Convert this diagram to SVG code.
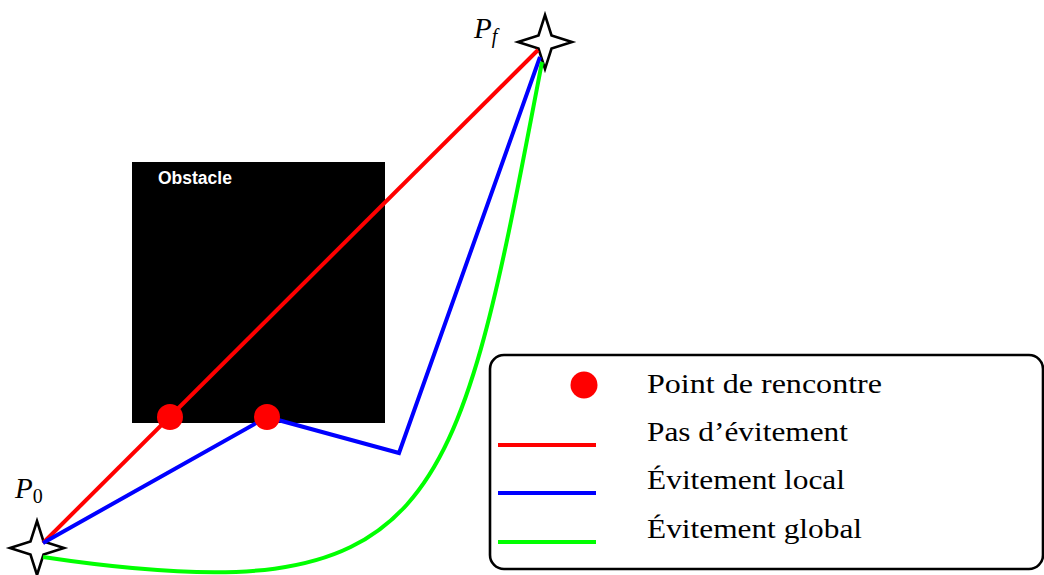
<svg xmlns="http://www.w3.org/2000/svg" width="1044" height="575" viewBox="0 0 1044 575">
<style>
.path{fill:none;stroke-width:4;stroke-linejoin:miter}
.red{stroke:#ff0000}
.blue{stroke:#0000ff}
.green{stroke:#00ff00}
.dot{fill:#ff0000}
.star{fill:#ffffff;stroke:#000000;stroke-width:2.6;stroke-linejoin:miter}
.lbl{font-family:"Liberation Serif","Times New Roman",serif;font-size:27px;fill:#000}
.math{font-family:"Liberation Serif","Times New Roman",serif;font-style:italic;fill:#000}
</style>
<defs>
<polygon id="star4" points="0,-27 6.5,-6.5 27,0 6.5,6.5 0,27 -6.5,6.5 -27,0 -6.5,-6.5"/>
</defs>
<rect width="1044" height="575" fill="#ffffff"/>
<g id="obstacle">
<rect x="132" y="162" width="253" height="261" fill="#000000"/>
<text x="158" y="184" font-family="Liberation Sans, Arial, sans-serif" font-weight="bold" font-size="17.5" fill="#ffffff">Obstacle</text>
</g>
<g id="P0">
<use href="#star4" class="star" transform="translate(37,548)"/>
<text class="math" x="15" y="498" font-size="29">P<tspan font-style="normal" font-size="20" dy="5">0</tspan></text>
</g>
<g id="Pf">
<use href="#star4" class="star" transform="translate(545,42)"/>
<text class="math" x="474" y="38" font-size="29">P<tspan font-size="20" dy="5">f</tspan></text>
</g>
<g id="connectors">
<path class="path red" d="M43,543 L538,50"/>
<path class="path blue" d="M43,543 L267,417 L399,453 L540,57"/>
<path class="path green" d="M43,557 C443,617 456,512 542,62"/>
</g>
<g id="meeting-points">
<circle class="dot" cx="170" cy="417" r="13"/>
<circle class="dot" cx="267" cy="417" r="13"/>
</g>
<g id="legend">
<rect x="490" y="355" width="553" height="214" rx="14" ry="14" fill="#ffffff" stroke="#000000" stroke-width="2.6"/>
<circle class="dot" cx="584" cy="385" r="13.5"/>
<line class="path red" x1="498" y1="445" x2="596" y2="445"/>
<line class="path blue" x1="498" y1="493" x2="596" y2="493"/>
<line class="path green" x1="498" y1="542" x2="596" y2="542"/>
<text class="lbl" x="647" y="393" textLength="235" lengthAdjust="spacingAndGlyphs">Point de rencontre</text>
<text class="lbl" x="647" y="441" textLength="201" lengthAdjust="spacingAndGlyphs">Pas d’évitement</text>
<text class="lbl" x="647" y="489" textLength="198" lengthAdjust="spacingAndGlyphs">Évitement local</text>
<text class="lbl" x="647" y="538" textLength="215" lengthAdjust="spacingAndGlyphs">Évitement global</text>
</g>
</svg>
